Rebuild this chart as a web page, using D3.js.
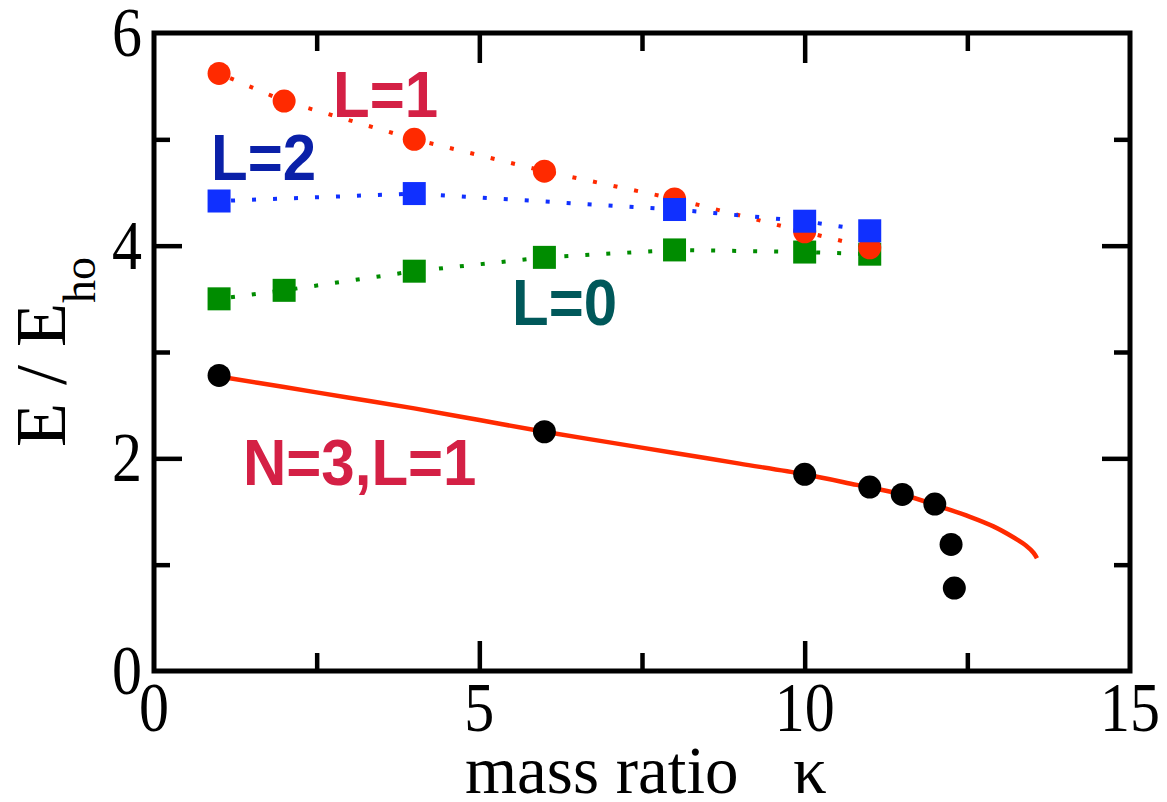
<!DOCTYPE html>
<html>
<head>
<meta charset="utf-8">
<script src="https://cdn.jsdelivr.net/npm/d3@7"></script>
<style>
  body { margin: 0; background: #fff; }
  .serif { font-family: 'Liberation Serif', 'Times New Roman', serif; fill: #000; }
  .lab { font-family: 'Liberation Sans', Arial, sans-serif; font-weight: bold; }
</style>
</head>
<body>
<script>
// mass ratio values (x) and energies (y)
let kappaL1 = [1, 2, 4, 6, 8, 10, 11]
let energyL1 = [5.62, 5.36, 5.0, 4.7, 4.44, 4.13, 3.98]

let kappaL2 = [1, 4, 8, 10, 11]
let energyL2 = [4.42, 4.49, 4.34, 4.23, 4.14]

let kappaL0 = [1, 2, 4, 6, 8, 10, 11]
let energyL0 = [3.5, 3.58, 3.76, 3.89, 3.96, 3.94, 3.92]

let kappaN3 = [1, 6, 10, 11, 11.5, 12, 12.25, 12.3]
let energyN3 = [2.78, 2.25, 1.85, 1.73, 1.66, 1.57, 1.19, 0.78]

let kappaCurve = [1, 2, 3, 4, 5, 6, 7, 8, 9, 10, 10.8, 11.5, 12.16, 12.54, 12.9, 13.2, 13.4, 13.52, 13.57]
let energyCurve = [2.77, 2.67, 2.57, 2.47, 2.36, 2.25, 2.15, 2.05, 1.95, 1.85, 1.75, 1.66, 1.53, 1.45, 1.36, 1.26, 1.18, 1.11, 1.06]

let xMajor = [0, 5, 10, 15]
let xMinor = [2.5, 7.5, 12.5]
let yMajor = [0, 2, 4, 6]
let yMinor = [1, 3, 5]

let zip = (xs, ys) => xs.map((k, i) => ({ k: k, e: ys[i] }))

let margins = { top: 33, right: 37, bottom: 131, left: 154 }
let width = 1167 - margins.left - margins.right
let height = 802 - margins.top - margins.bottom

let x = d3.scaleLinear().domain([0, 15]).range([0, width])
let y = d3.scaleLinear().domain([0, 6]).range([height, 0])

let svg = d3.select('body').append('svg')
    .attr('width', 1167)
    .attr('height', 802)
  .append('g')
    .attr('transform', 'translate(' + [margins.left, margins.top] + ')')

// ticks on all four sides, pointing inwards
function ticks(axis, values, size, tx, ty) {
  let g = svg.append('g')
    .attr('transform', 'translate(' + [tx, ty] + ')')
    .call(axis.tickValues(values).tickSizeInner(-size).tickSizeOuter(0).tickFormat(''))
  g.select('.domain').remove()
  g.selectAll('line').attr('stroke', '#000').attr('stroke-width', 4.5)
}
ticks(d3.axisBottom(x), [5, 10], 30, 0, height)
ticks(d3.axisBottom(x), xMinor, 18, 0, height)
ticks(d3.axisTop(x), [5, 10], 30, 0, 0)
ticks(d3.axisTop(x), xMinor, 18, 0, 0)
ticks(d3.axisLeft(y), [2, 4], 28, 0, 0)
ticks(d3.axisLeft(y), yMinor, 16, 0, 0)
ticks(d3.axisRight(y), [2, 4], 28, width, 0)
ticks(d3.axisRight(y), yMinor, 16, width, 0)

svg.append('rect')
  .attr('width', width)
  .attr('height', height)
  .attr('fill', 'none')
  .attr('stroke', '#000')
  .attr('stroke-width', 5)

// tick labels
svg.selectAll('.xlab')
  .data(xMajor)
 .enter().append('text')
  .attr('class', 'serif')
  .attr('transform', (d) => 'translate(' + [x(d), height + 60] + ') scale(1,1.15)')
  .attr('text-anchor', 'middle')
  .attr('font-size', 60)
  .text((d) => d)

svg.selectAll('.ylab')
  .data(yMajor)
 .enter().append('text')
  .attr('class', 'serif')
  .attr('transform', (d) => 'translate(' + [-12, y(d) + 23] + ') scale(1,1.15)')
  .attr('text-anchor', 'end')
  .attr('font-size', 60)
  .text((d) => d)

// axis titles
let xt = svg.append('text')
  .attr('class', 'serif')
  .attr('font-size', 67)
  .attr('y', 760)
xt.append('tspan').attr('x', 465 - margins.left).text('mass ratio')
xt.append('tspan').attr('x', 793 - margins.left).text('κ')

let yt = svg.append('text')
  .attr('class', 'serif')
  .attr('font-size', 72)
  .attr('text-anchor', 'middle')
  .attr('transform', 'translate(' + [65 - margins.left, 352 - margins.top] + ') rotate(-90)')
yt.append('tspan').text('E / E')
yt.append('tspan').attr('font-size', 46).attr('dy', 30).text('ho')

// curves
let line = d3.line().x((d) => x(d.k)).y((d) => y(d.e))

let series = [
  { data: zip(kappaL0, energyL0), color: '#008c00', shape: 'square' },
  { data: zip(kappaL1, energyL1), color: '#ff2a00', shape: 'circle' },
  { data: zip(kappaL2, energyL2), color: '#1030ff', shape: 'square' }
]

series.forEach((s) => {
  svg.append('path')
    .attr('d', line(s.data))
    .attr('fill', 'none')
    .attr('stroke', s.color)
    .attr('stroke-width', 4)
    .attr('stroke-dasharray', '4,17')
    .attr('stroke-dashoffset', -12)
})

series.forEach((s) => {
  let g = svg.append('g').attr('fill', s.color)
  if (s.shape === 'circle') {
    g.selectAll('circle').data(s.data)
     .enter().append('circle')
      .attr('cx', (d) => x(d.k))
      .attr('cy', (d) => y(d.e))
      .attr('r', 11.5)
  } else {
    g.selectAll('rect').data(s.data)
     .enter().append('rect')
      .attr('x', (d) => x(d.k) - 11.5)
      .attr('y', (d) => y(d.e) - 11.5)
      .attr('width', 23)
      .attr('height', 23)
  }
})

svg.append('path')
  .attr('d', d3.line().x((d) => x(d.k)).y((d) => y(d.e))
    .curve(d3.curveCatmullRom.alpha(0.5))(zip(kappaCurve, energyCurve)))
  .attr('fill', 'none')
  .attr('stroke', '#ff2a00')
  .attr('stroke-width', 4.5)

svg.append('g')
  .selectAll('circle')
  .data(zip(kappaN3, energyN3))
 .enter().append('circle')
  .attr('cx', (d) => x(d.k))
  .attr('cy', (d) => y(d.e))
  .attr('r', 11.5)
  .attr('fill', '#000')

// labels
let labels = [
  { text: 'L=1', x: 333, y: 117, color: '#d42045' },
  { text: 'L=2', x: 211, y: 180, color: '#0a20a8' },
  { text: 'L=0', x: 512, y: 325, color: '#00585a' },
  { text: 'N=3,L=1', x: 243, y: 485, color: '#d42045' }
]

svg.selectAll('.lab')
  .data(labels)
 .enter().append('text')
  .attr('class', 'lab')
  .attr('transform', (d) => 'translate(' + [d.x - margins.left, d.y - margins.top] + ') scale(1,1.09)')
  .attr('font-size', 60)
  .attr('fill', (d) => d.color)
  .text((d) => d.text)
</script>
</body>
</html>
